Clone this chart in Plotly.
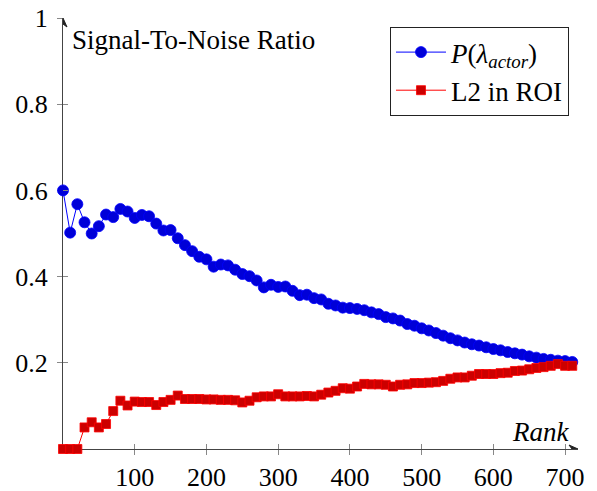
import plotly.graph_objects as go

rank = list(range(0, 720, 10))

p_lambda = [0.600, 0.502, 0.568, 0.526, 0.500, 0.517, 0.544, 0.538, 0.557, 0.551,
            0.536, 0.543, 0.540, 0.523, 0.507, 0.508, 0.489, 0.473, 0.459, 0.446,
            0.440, 0.423, 0.428, 0.426, 0.416, 0.406, 0.401, 0.391, 0.375, 0.381,
            0.376, 0.377, 0.367, 0.357, 0.358, 0.350, 0.347, 0.337, 0.333, 0.328,
            0.327, 0.325, 0.322, 0.317, 0.313, 0.306, 0.303, 0.298, 0.290, 0.286,
            0.280, 0.275, 0.269, 0.263, 0.257, 0.252, 0.247, 0.243, 0.240, 0.236,
            0.232, 0.229, 0.225, 0.222, 0.219, 0.215, 0.212, 0.209, 0.207, 0.205,
            0.204, 0.202]

l2_roi = [0.000, 0.000, 0.000, 0.050, 0.062, 0.050, 0.058, 0.088, 0.112, 0.101,
          0.110, 0.109, 0.109, 0.102, 0.109, 0.114, 0.124, 0.116, 0.116, 0.116,
          0.115, 0.115, 0.114, 0.114, 0.113, 0.108, 0.112, 0.120, 0.122, 0.122,
          0.127, 0.122, 0.122, 0.122, 0.123, 0.122, 0.126, 0.131, 0.135, 0.141,
          0.140, 0.145, 0.151, 0.150, 0.150, 0.149, 0.145, 0.149, 0.150, 0.153,
          0.153, 0.154, 0.155, 0.158, 0.163, 0.166, 0.166, 0.170, 0.174, 0.174,
          0.174, 0.176, 0.177, 0.181, 0.182, 0.185, 0.188, 0.190, 0.193, 0.197,
          0.193, 0.193]

x_ticks = [100, 200, 300, 400, 500, 600, 700]
y_ticks = [0.2, 0.4, 0.6, 0.8, 1.0]
y_tick_text = ["0.2", "0.4", "0.6", "0.8", "1"]

X_MAX = 718
FONT = "Liberation Serif"
AXIS_COLOR = "#444444"
TICK_COLOR = "#888888"

fig = go.Figure()

fig.add_trace(go.Scatter(
    x=rank, y=p_lambda, mode="lines+markers",
    name="<i>P</i>(<i>λ</i><sub><i>actor</i></sub>)",
    line=dict(color="#0000ff", width=1),
    marker=dict(symbol="circle", size=11, color="#0000d8",
                line=dict(color="#0000ff", width=0.8)),
    cliponaxis=False,
))
fig.add_trace(go.Scatter(
    x=rank, y=l2_roi, mode="lines+markers",
    name="L2 in ROI",
    line=dict(color="#ff0000", width=1),
    marker=dict(symbol="square", size=9, color="#cc0000",
                line=dict(color="#ff0000", width=0.8)),
    cliponaxis=False,
))
# invisible trace holding the overlay axes (inner half of the ticks)
fig.add_trace(go.Scatter(x=[0], y=[0], xaxis="x2", yaxis="y2", mode="markers",
                         marker=dict(opacity=0), showlegend=False, hoverinfo="skip"))

fig.update_layout(
    width=597, height=491,
    margin=dict(l=63, r=19, t=18, b=42, autoexpand=False),
    paper_bgcolor="white", plot_bgcolor="white",
    font=dict(family=FONT, size=26, color="black"),
    showlegend=True,
    legend=dict(
        x=0.9825, y=0.979, xanchor="right", yanchor="top",
        bgcolor="white", bordercolor="#222222", borderwidth=1,
        font=dict(family=FONT, size=27, color="black"),
        tracegroupgap=0, itemwidth=50,
    ),
    xaxis=dict(
        range=[0, X_MAX], showgrid=False, zeroline=False, automargin=False,
        showline=True, linecolor=AXIS_COLOR, linewidth=1,
        tickmode="array", tickvals=x_ticks, ticktext=[str(v) for v in x_ticks],
        ticks="outside", ticklen=5, tickcolor=TICK_COLOR, tickwidth=1,
        tickfont=dict(family=FONT, size=26), layer="below traces",
    ),
    yaxis=dict(
        range=[0, 1], showgrid=False, zeroline=False, automargin=False,
        showline=True, linecolor=AXIS_COLOR, linewidth=1,
        tickmode="array", tickvals=y_ticks, ticktext=y_tick_text,
        ticks="outside", ticklen=5, tickcolor=TICK_COLOR, tickwidth=1,
        tickfont=dict(family=FONT, size=26), layer="below traces",
        ticklabelstandoff=4,
    ),
    xaxis2=dict(
        range=[0, X_MAX], overlaying="x", anchor="y2", side="bottom",
        showgrid=False, zeroline=False, showline=False, automargin=False,
        tickmode="array", tickvals=x_ticks, showticklabels=False,
        ticks="inside", ticklen=5, tickcolor=TICK_COLOR, tickwidth=1,
    ),
    yaxis2=dict(
        range=[0, 1], overlaying="y", anchor="x2", side="left",
        showgrid=False, zeroline=False, showline=False, automargin=False,
        tickmode="array", tickvals=y_ticks, showticklabels=False,
        ticks="inside", ticklen=5, tickcolor=TICK_COLOR, tickwidth=1,
    ),
)

# axis arrowheads as pixel-sized shapes anchored at the axis ends
fig.add_shape(type="path", xref="x", yref="y", xsizemode="pixel", ysizemode="pixel",
              xanchor=X_MAX, yanchor=0, path="M 0 0 L -9 4 L -6 0 L -9 -4 Z",
              fillcolor="#222222", line=dict(color="#222222", width=1))
fig.add_shape(type="path", xref="x", yref="y", xsizemode="pixel", ysizemode="pixel",
              xanchor=0, yanchor=1, path="M 0 0 L -4 -9 L 0 -6 L 4 -9 Z",
              fillcolor="#222222", line=dict(color="#222222", width=1))

# axis labels
fig.add_annotation(x=X_MAX - 10, y=0, xref="x", yref="y", xanchor="right",
                   yanchor="bottom", yshift=0, showarrow=False,
                   text="<i>Rank</i>", font=dict(family=FONT, size=27))
fig.add_annotation(x=10, y=0.95, xref="x", yref="y", xanchor="left",
                   yanchor="middle", showarrow=False,
                   text="Signal-To-Noise Ratio", font=dict(family=FONT, size=27))

fig.write_html("out.html")
